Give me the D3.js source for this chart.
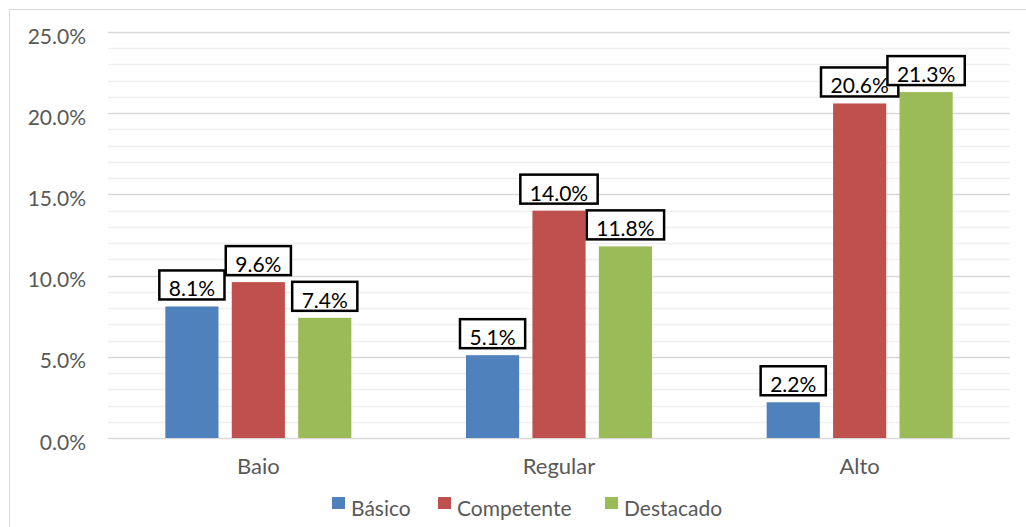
<!DOCTYPE html>
<html>
<head>
<meta charset="utf-8">
<script src="https://cdn.jsdelivr.net/npm/d3@7"></script>
<style>
  body { margin: 0; background: #fff; }
  text { font-family: Lato, "Open Sans", sans-serif; }
</style>
</head>
<body>
<div id="chart"></div>
<script>
var categories = ["Baio", "Regular", "Alto"];
var series = ["Básico", "Competente", "Destacado"];
var colors = ["#4F81BD", "#C0504D", "#9BBB59"];
var basico = [8.1, 5.1, 2.2];
var competente = [9.6, 14.0, 20.6];
var destacado = [7.4, 11.8, 21.3];
var yTicks = [0, 5, 10, 15, 20, 25];

var values = [basico, competente, destacado];

var svg = d3.select("#chart")
    .append("svg")
    .attr("width", 1026)
    .attr("height", 527);

// chart area border
svg.append("rect")
    .attr("x", 9.5).attr("y", 9.5)
    .attr("width", 1040).attr("height", 540)
    .attr("fill", "none")
    .attr("stroke", "#d9d9d9");

var y = d3.scaleLinear().domain([0, 25]).range([438, 32]);
var x0 = d3.scaleBand().domain(categories).range([108, 1010]);
var x1 = d3.scaleBand().domain(series).range([0, 186]).paddingInner(0.2);

// minor gridlines every 1%
svg.append("g").selectAll("line")
    .data(d3.range(0, 26).filter(function (d) { return d % 5 != 0; }))
    .enter().append("line")
    .attr("x1", 108).attr("x2", 1010)
    .attr("y1", function (d) { return Math.round(y(d)) + 0.5; })
    .attr("y2", function (d) { return Math.round(y(d)) + 0.5; })
    .attr("stroke", "#f0f0f0")
    .attr("stroke-width", 1.5);

// major gridlines
svg.append("g").selectAll("line")
    .data(yTicks)
    .enter().append("line")
    .attr("x1", 108).attr("x2", 1010)
    .attr("y1", function (d) { return Math.round(y(d)) + 0.5; })
    .attr("y2", function (d) { return Math.round(y(d)) + 0.5; })
    .attr("stroke", "#d9d9d9")
    .attr("stroke-width", 1.5);

// y axis labels
svg.append("g").selectAll("text")
    .data(yTicks)
    .enter().append("text")
    .attr("x", 86)
    .attr("y", function (d) { return y(d) + 3; })
    .attr("text-anchor", "end")
    .attr("dominant-baseline", "central")
    .attr("fill", "#595959")
    .style("font-size", "21px")
    .text(function (d) { return d.toFixed(1) + "%"; });

// x axis labels
svg.append("g").selectAll("text")
    .data(categories)
    .enter().append("text")
    .attr("x", function (d) { return x0(d) + x0.bandwidth() / 2; })
    .attr("y", 474)
    .attr("text-anchor", "middle")
    .attr("fill", "#595959")
    .style("font-size", "22px")
    .text(function (d) { return d; });

// bars
var rows = [];
categories.forEach(function (c, i) {
    series.forEach(function (s, j) {
        rows.push({ cat: c, ser: s, color: colors[j], value: values[j][i] });
    });
});

function barX(d) {
    return x0(d.cat) + x0.bandwidth() / 2 - 93 + x1(d.ser);
}

svg.append("g").selectAll("rect")
    .data(rows)
    .enter().append("rect")
    .attr("x", barX)
    .attr("y", function (d) { return y(d.value); })
    .attr("width", x1.bandwidth())
    .attr("height", function (d) { return y(0) - y(d.value); })
    .attr("fill", function (d) { return d.color; });

// data labels with boxes
var labels = svg.append("g").selectAll("g")
    .data(rows)
    .enter().append("g");

labels.each(function (d) {
    var g = d3.select(this);
    var cx = barX(d) + x1.bandwidth() / 2;
    var bottom = y(d.value) - 7;
    var t = g.append("text")
        .attr("x", cx)
        .attr("y", bottom - 3)
        .attr("text-anchor", "middle")
        .attr("fill", "#000")
        .style("font-size", "21px")
        .text(d.value.toFixed(1) + "%");
    var w = t.node().getComputedTextLength() + 19;
    g.insert("rect", "text")
        .attr("x", cx - w / 2)
        .attr("y", bottom - 29)
        .attr("width", w)
        .attr("height", 29)
        .attr("fill", "#fff")
        .attr("stroke", "#000")
        .attr("stroke-width", 2.5);
});

// legend
var legendX = [332, 438, 605];
var legend = svg.append("g").selectAll("g")
    .data(series)
    .enter().append("g")
    .attr("transform", function (d, i) { return "translate(" + legendX[i] + ",0)"; });

legend.append("rect")
    .attr("x", 0).attr("y", 497)
    .attr("width", 13).attr("height", 12)
    .attr("fill", function (d, i) { return colors[i]; });

legend.append("text")
    .attr("x", 19).attr("y", 516)
    .attr("fill", "#595959")
    .style("font-size", "21px")
    .text(function (d) { return d; });
</script>
</body>
</html>
